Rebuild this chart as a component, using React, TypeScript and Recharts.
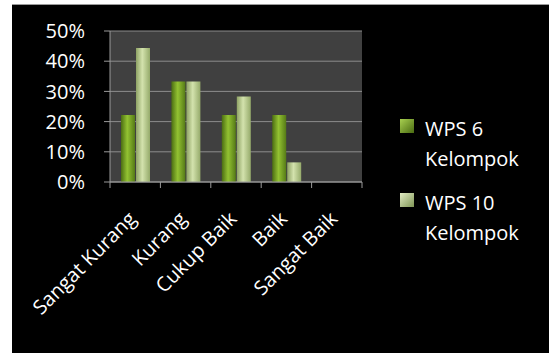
import { BarChart, Bar, XAxis, YAxis, CartesianGrid, Legend } from 'recharts';

const categories = ['Sangat Kurang', 'Kurang', 'Cukup Baik', 'Baik', 'Sangat Baik'];
const wps6 = [22.2, 33.3, 22.2, 22.2, 0];
const wps10 = [44.4, 33.3, 28.3, 6.5, 0];
const yTicks = [0, 10, 20, 30, 40, 50];
const seriesNames = ['WPS 6', 'WPS 10'];

const data = categories.map((name, i) => ({ name, wps6: wps6[i], wps10: wps10[i] }));

const FONT = '"Open Sans", sans-serif';
const AXIS = '#9a9a9a';

// label rotated like Excel, plus tick marks on the category boundaries
const CategoryTick = (props: any) => {
  const { x, y, payload, index, width, visibleTicksCount } = props;
  const count = visibleTicksCount || categories.length;
  const half = payload && payload.offset ? payload.offset : width / (2 * count);
  const isLast = index === count - 1;
  return (
    <g>
      <line x1={x - half} y1={y} x2={x - half} y2={y + 6} stroke={AXIS} />
      {isLast && <line x1={x + half} y1={y} x2={x + half} y2={y + 6} stroke={AXIS} />}
      <g transform={`translate(${x + 2},${y + 38})`}>
        <text transform="rotate(-45)" textAnchor="end" fill="#ffffff" fontSize={20} fontFamily={FONT}>
          {payload.value}
        </text>
      </g>
    </g>
  );
};

const legendItems = [
  { label: seriesNames[0], grad: 'url(#legA)', top: 114, box: 119 },
  { label: seriesNames[1], grad: 'url(#legB)', top: 188, box: 193 },
];

const CustomLegend = () => (
  <div style={{ position: 'absolute', left: 0, top: 0 }}>
    <svg width={20} height={100} style={{ position: 'absolute', left: 398, top: 0, overflow: 'visible' }}>
      <defs>
        <linearGradient id="legA" x1="0" y1="0" x2="1" y2="1">
          <stop offset="0%" stopColor="#a8d050" />
          <stop offset="100%" stopColor="#4a6b12" />
        </linearGradient>
        <linearGradient id="legB" x1="0" y1="0" x2="1" y2="1">
          <stop offset="0%" stopColor="#e2ecc4" />
          <stop offset="100%" stopColor="#7f9555" />
        </linearGradient>
      </defs>
      {legendItems.map((it) => (
        <rect key={it.label} x={2} y={it.box} width={14} height={14} fill={it.grad} />
      ))}
    </svg>
    {legendItems.map((it) => (
      <div
        key={it.label}
        style={{
          position: 'absolute',
          left: 425,
          top: it.top,
          width: 120,
          color: '#ffffff',
          fontFamily: FONT,
          fontSize: 20,
          lineHeight: '30px',
          whiteSpace: 'nowrap',
        }}
      >
        <div>{it.label}</div>
        <div>Kelompok</div>
      </div>
    ))}
  </div>
);

export default function App() {
  return (
    <div style={{ position: 'absolute', left: 0, top: 0, width: 549, height: 353, background: '#ffffff' }}>
      <div
        style={{
          position: 'absolute',
          left: 12,
          top: 4,
          width: 537,
          height: 349,
          background: '#000000',
          borderTop: '1px solid #9a9a9a',
          boxSizing: 'border-box',
        }}
      />
      <div style={{ position: 'absolute', left: 0, top: 0 }}>
        <BarChart
          width={549}
          height={353}
          data={data}
          margin={{ top: 31, right: 187, bottom: 141, left: 50 }}
          barSize={14}
          barGap={1}
        >
          <defs>
            <linearGradient id="gradA" x1="0" y1="0" x2="1" y2="0">
              <stop offset="0%" stopColor="#4b6d12" />
              <stop offset="45%" stopColor="#93c232" />
              <stop offset="100%" stopColor="#557a16" />
            </linearGradient>
            <linearGradient id="gradB" x1="0" y1="0" x2="1" y2="0">
              <stop offset="0%" stopColor="#8ea264" />
              <stop offset="45%" stopColor="#d3e2ad" />
              <stop offset="100%" stopColor="#95aa6a" />
            </linearGradient>
          </defs>
          <CartesianGrid vertical={false} stroke="#8c8c8c" fill="#404040" />
          <XAxis
            dataKey="name"
            height={30}
            stroke={AXIS}
            tickLine={false}
            tickSize={0}
            tickMargin={0}
            interval={0}
            tick={<CategoryTick />}
          />
          <YAxis
            width={60}
            domain={[0, 50]}
            ticks={yTicks}
            tickFormatter={(v: number) => `${v}%`}
            tickSize={6}
            tickMargin={19}
            stroke={AXIS}
            tick={{ fill: '#ffffff', fontSize: 20, fontFamily: FONT }}
          />
          <Legend content={<CustomLegend />} wrapperStyle={{ left: 0, top: 0, width: 0, height: 0 }} />
          <Bar dataKey="wps6" name={seriesNames[0]} fill="url(#gradA)" isAnimationActive={false} />
          <Bar dataKey="wps10" name={seriesNames[1]} fill="url(#gradB)" isAnimationActive={false} />
        </BarChart>
      </div>
    </div>
  );
}
